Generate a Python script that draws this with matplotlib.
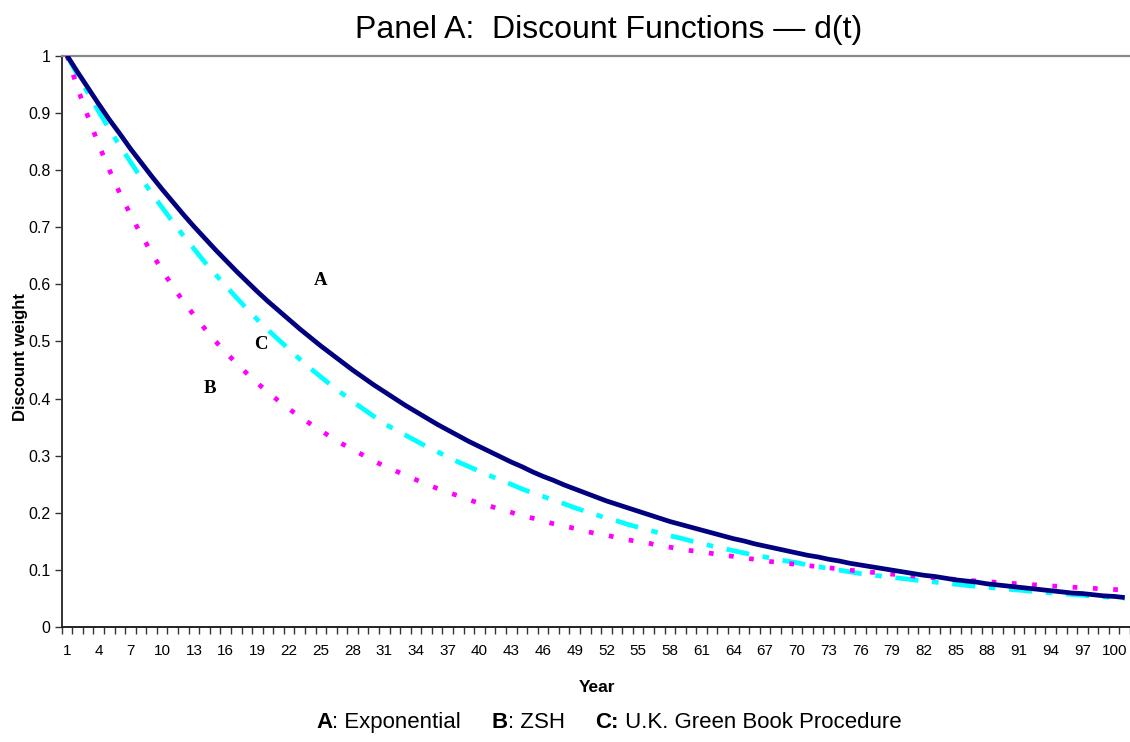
import matplotlib
matplotlib.use("Agg")
import matplotlib.pyplot as plt
from matplotlib.ticker import FixedLocator, NullFormatter

# years on the category axis
years = list(range(1, 102))
year_labels = list(range(1, 101, 3))

# A: exponential
exp_a = [1.000, 0.971, 0.943, 0.915, 0.888, 0.863, 0.837, 0.813, 0.789, 0.766,
         0.744, 0.722, 0.701, 0.681, 0.661, 0.642, 0.623, 0.605, 0.587, 0.570,
         0.554, 0.538, 0.522, 0.507, 0.492, 0.478, 0.464, 0.450, 0.437, 0.424,
         0.412, 0.400, 0.388, 0.377, 0.366, 0.355, 0.345, 0.335, 0.325, 0.316,
         0.307, 0.298, 0.289, 0.281, 0.272, 0.264, 0.257, 0.249, 0.242, 0.235,
         0.228, 0.221, 0.215, 0.209, 0.203, 0.197, 0.191, 0.185, 0.180, 0.175,
         0.170, 0.165, 0.160, 0.155, 0.151, 0.146, 0.142, 0.138, 0.134, 0.130,
         0.126, 0.123, 0.119, 0.116, 0.112, 0.109, 0.106, 0.103, 0.100, 0.097,
         0.094, 0.091, 0.089, 0.086, 0.083, 0.081, 0.079, 0.076, 0.074, 0.072,
         0.070, 0.068, 0.066, 0.064, 0.062, 0.060, 0.059, 0.057, 0.055, 0.054,
         0.052]

# B: ZSH
zsh_b = [1.000, 0.943, 0.892, 0.844, 0.800, 0.759, 0.722, 0.687, 0.655, 0.624,
         0.596, 0.570, 0.546, 0.523, 0.501, 0.481, 0.462, 0.444, 0.427, 0.411,
         0.396, 0.382, 0.368, 0.356, 0.344, 0.332, 0.321, 0.311, 0.301, 0.291,
         0.282, 0.274, 0.266, 0.258, 0.250, 0.243, 0.236, 0.230, 0.223, 0.217,
         0.212, 0.206, 0.201, 0.195, 0.191, 0.186, 0.181, 0.177, 0.173, 0.168,
         0.164, 0.161, 0.157, 0.153, 0.150, 0.147, 0.143, 0.140, 0.137, 0.134,
         0.132, 0.129, 0.126, 0.124, 0.121, 0.119, 0.116, 0.114, 0.112, 0.110,
         0.108, 0.106, 0.104, 0.102, 0.0999, 0.0981, 0.0963, 0.0946, 0.0929, 0.0913,
         0.0897, 0.0882, 0.0867, 0.0852, 0.0838, 0.0824, 0.0810, 0.0797, 0.0785, 0.0772,
         0.0760, 0.0748, 0.0736, 0.0724, 0.0713, 0.0702, 0.0692, 0.0681, 0.0671, 0.0661,
         0.0651]

# C: U.K. Green Book procedure
green_c = [1.000, 0.966, 0.934, 0.902, 0.871, 0.842, 0.814, 0.786, 0.759, 0.734,
           0.709, 0.685, 0.662, 0.639, 0.618, 0.597, 0.577, 0.557, 0.538, 0.520,
           0.503, 0.486, 0.469, 0.453, 0.438, 0.423, 0.409, 0.395, 0.382, 0.369,
           0.356, 0.346, 0.336, 0.326, 0.316, 0.307, 0.298, 0.289, 0.281, 0.273,
           0.265, 0.257, 0.250, 0.242, 0.235, 0.229, 0.222, 0.216, 0.209, 0.203,
           0.197, 0.191, 0.186, 0.180, 0.175, 0.170, 0.165, 0.160, 0.156, 0.151,
           0.147, 0.142, 0.138, 0.134, 0.130, 0.126, 0.123, 0.119, 0.116, 0.113,
           0.109, 0.106, 0.103, 0.100, 0.097, 0.094, 0.0917, 0.0895, 0.0873, 0.0852,
           0.0831, 0.0810, 0.0791, 0.0771, 0.0753, 0.0734, 0.0716, 0.0699, 0.0682, 0.0665,
           0.0649, 0.0633, 0.0618, 0.0603, 0.0588, 0.0574, 0.0560, 0.0546, 0.0533, 0.0520,
           0.0507]

sans = ["Liberation Sans", "DejaVu Sans"]
serif = ["Liberation Serif", "DejaVu Serif"]

fig = plt.figure(figsize=(11.3, 7.42), dpi=100)
ax = fig.add_axes([0.0546, 0.1546, 0.9454, 0.7706])

ax.plot(years, exp_a, color="#000080", lw=3.4, solid_capstyle="butt", zorder=3)
ax.plot(years, green_c, color="#00FFFF", lw=3.4, dashes=(4.9, 2.9, 1.4, 2.9),
        dash_capstyle="butt", zorder=2)
ax.plot(years, zsh_b, color="#FF00FF", lw=3.4, dashes=(1.0, 3.3),
        dash_capstyle="butt", zorder=2)

ax.set_xlim(0.5, 101.5)
ax.set_ylim(0, 1)

# labels every third year, tick marks between categories
ax.xaxis.set_major_locator(FixedLocator(year_labels))
ax.set_xticklabels([str(y) for y in year_labels], family=sans, fontsize=11)
ax.xaxis.set_minor_locator(FixedLocator([y - 0.5 for y in years] + [101.5]))
ax.xaxis.set_minor_formatter(NullFormatter())
ax.tick_params(axis="x", which="major", length=0, pad=12)
ax.tick_params(axis="x", which="minor", length=5, width=1, direction="out", color="#333333")

yt = [i / 10 for i in range(11)]
ax.set_yticks(yt)
ax.set_yticklabels(["0"] + [f"{v:g}" for v in yt[1:-1]] + ["1"], family=sans, fontsize=11.5)
ax.tick_params(axis="y", length=5, width=1, direction="out", pad=3, color="#333333")

ax.spines["right"].set_visible(False)
ax.spines["top"].set_color("#888888")
ax.spines["top"].set_linewidth(1.6)
ax.spines["left"].set_color("#333333")
ax.spines["left"].set_linewidth(1.4)
ax.spines["bottom"].set_color("#222222")
ax.spines["bottom"].set_linewidth(1.4)

ax.set_ylabel("Discount weight", family=sans, fontsize=12, fontweight="bold")
ax.yaxis.set_label_coords(-0.032, 0.473)

ax.text(25.0, 0.607, "A", family=serif, fontweight="bold", fontsize=13.5, ha="center", va="center")
ax.text(19.3, 0.495, "C", family=serif, fontweight="bold", fontsize=13.5, ha="center", va="center")
ax.text(14.5, 0.417, "B", family=serif, fontweight="bold", fontsize=13.5, ha="center", va="center")

fig.text(0.5385, 0.9595, "Panel A:  Discount Functions \u2014 d(t)", family=sans, fontsize=23,
         ha="center", va="center")
fig.text(0.528, 0.073, "Year", family=sans, fontsize=12.5, fontweight="bold", ha="center", va="center")

# footer: bold letters + regular text, chained left to right
pieces = [("A", "bold"), (": Exponential     ", "normal"), ("B", "bold"),
          (": ZSH     ", "normal"), ("C:", "bold"), (" U.K. Green Book Procedure", "normal")]
prev = fig.text(0.2797, 0.019, pieces[0][0], family=sans, fontsize=16, fontweight=pieces[0][1],
                ha="left", va="baseline")
for txt, wt in pieces[1:]:
    prev = ax.annotate(txt, xy=(1, 0), xycoords=prev, va="bottom", ha="left",
                       family=sans, fontsize=16, fontweight=wt, annotation_clip=False)

fig.savefig("out.png", dpi=100)
